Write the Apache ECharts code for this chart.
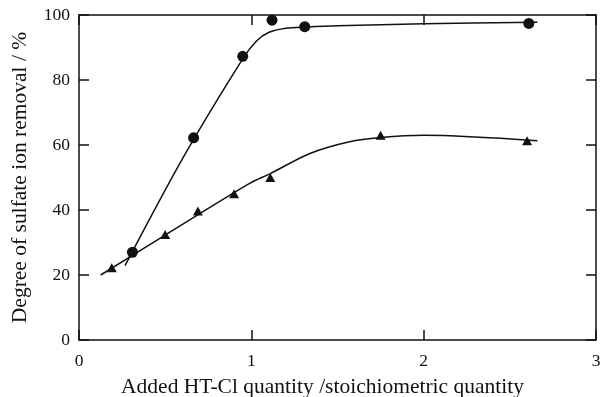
<!DOCTYPE html>
<html>
<head>
<meta charset="utf-8">
<script src="https://cdn.jsdelivr.net/npm/echarts@6/dist/echarts.min.js"></script>
<style>
  html, body { margin: 0; padding: 0; background: #fff; }
  #chart { width: 603px; height: 397px; }
</style>
</head>
<body>
<div id="chart"></div>
<script>
// measured points (x = added HT-Cl / stoichiometric, y = removal %)
var circlePoints = [[0.31, 27], [0.665, 62.2], [0.95, 87.3], [1.12, 98.4], [1.31, 96.4], [2.61, 97.4]];
var trianglePoints = [[0.19, 22.2], [0.5, 32.5], [0.69, 39.7], [0.9, 45], [1.11, 50], [1.75, 63], [2.6, 61.3]];

// hand drawn fit curves
var circleCurve = [[0.267, 22.9], [0.605, 56.2], [0.95, 86.5], [1.03, 92.0], [1.1, 94.6], [1.2, 95.9],
    [1.32, 96.3], [1.5, 96.7], [2.0, 97.3], [2.66, 97.8]];
var triangleCurve = [[0.126, 20], [0.5, 32.3], [0.99, 48.2], [1.11, 51.2], [1.34, 57.4],
    [1.57, 61], [1.75, 62.3], [2.0, 63], [2.66, 61.3]];

var xTicks = ['0', '1', '2', '3'];
var yTicks = ['0', '20', '40', '60', '80', '100'];

var ink = '#111';
var fontFam = '"Liberation Serif", "DejaVu Serif", serif';

var chart = echarts.init(document.getElementById('chart'));

function frameAxis(pos, show) {
    return {
        position: pos,
        axisLine: { show: true, onZero: false, lineStyle: { color: ink, width: 1.5 } },
        axisTick: { show: true, inside: true, length: 10, lineStyle: { color: ink, width: 1.5 } },
        axisLabel: { show: show },
        splitLine: { show: false }
    };
}

var xBottom = Object.assign(frameAxis('bottom', true), {
    type: 'value', min: 0, max: 3, interval: 1,
    name: 'Added HT-Cl quantity /stoichiometric quantity',
    nameLocation: 'middle', nameGap: 36,
    nameTextStyle: { color: ink, fontFamily: fontFam, fontSize: 21.5, padding: [0, 30, 0, 0] }
});
xBottom.axisLabel = { show: true, color: ink, fontFamily: fontFam, fontSize: 17.5, margin: 12,
    formatter: function (v) { return xTicks[Math.round(v)]; } };

var xTop = Object.assign(frameAxis('top', false), { type: 'value', min: 0, max: 3, interval: 1 });

var yLeft = Object.assign(frameAxis('left', true), {
    type: 'value', min: 0, max: 100, interval: 20,
    name: 'Degree of sulfate ion removal / %',
    nameLocation: 'middle', nameGap: 48, nameRotate: 90,
    nameTextStyle: { color: ink, fontFamily: fontFam, fontSize: 21.5 }
});
yLeft.axisLabel = { show: true, color: ink, fontFamily: fontFam, fontSize: 17.5, margin: 9,
    formatter: function (v) { return yTicks[Math.round(v / 20)]; } };

var yRight = Object.assign(frameAxis('right', false), { type: 'value', min: 0, max: 100, interval: 20 });

var option = {
    animation: false,
    backgroundColor: '#fff',
    grid: { left: 79, right: 7, top: 15, bottom: 57, outerBoundsMode: 'none' },
    xAxis: [xBottom, xTop],
    yAxis: [yLeft, yRight],
    series: [
        {
            type: 'line', data: circleCurve, smooth: 0.3,
            showSymbol: false, lineStyle: { color: ink, width: 1.5 }, z: 2
        },
        {
            type: 'line', data: triangleCurve, smooth: 0.3,
            showSymbol: false, lineStyle: { color: ink, width: 1.5 }, z: 2
        },
        {
            type: 'scatter', data: circlePoints, symbol: 'circle', symbolSize: 11,
            itemStyle: { color: ink, opacity: 1 }, z: 3
        },
        {
            type: 'scatter', data: trianglePoints, symbol: 'triangle', symbolSize: [10, 9],
            itemStyle: { color: ink, opacity: 1 }, z: 3
        }
    ]
};

chart.setOption(option);
</script>
</body>
</html>
